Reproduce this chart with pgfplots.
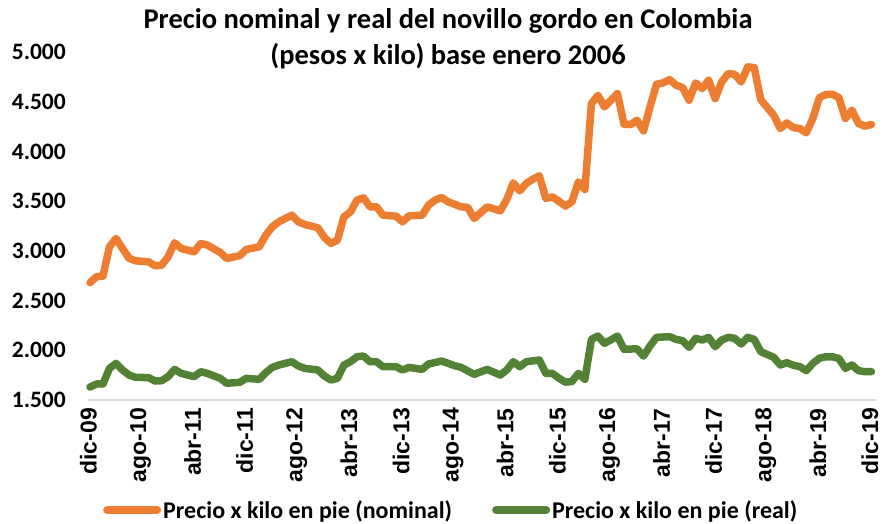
\documentclass[border=0pt]{standalone}
\usepackage{pgfplots}
\pgfplotsset{compat=1.18}
\usepackage{fontspec}
\setmainfont{Carlito}
\newfontfamily\arialfont{Liberation Sans}
\definecolor{cOrange}{HTML}{ED7D31}
\definecolor{cGreen}{HTML}{548235}
\definecolor{cAxis}{HTML}{D9D9D9}
\begin{document}
\begin{tikzpicture}[x=1pt,y=1pt]
\path[use as bounding box] (0,0) rectangle (884,523);
\node[font=\fontsize{28.5}{32}\selectfont\bfseries, align=center] at (448,523-21) {Precio nominal y real del novillo gordo en Colombia};
\node[font=\fontsize{28.5}{32}\selectfont\bfseries, align=center] at (448,523-56) {(pesos x kilo) base enero 2006};
\begin{axis}[
  scale only axis,
  width=788pt, height=348pt,
  anchor=south west, at={(88pt,123pt)},
  xmin=-0.3, xmax=120.7,
  ymin=1500, ymax=5000,
  xtick={0,8,...,120},
  xticklabels={dic-09,ago-10,abr-11,dic-11,ago-12,abr-13,dic-13,ago-14,abr-15,dic-15,ago-16,abr-17,dic-17,ago-18,abr-19,dic-19},
  ytick={1500,2000,...,5000},
  major tick length=0pt,
  separate axis lines,
  axis x line*=bottom,
  axis y line*=left,
  x axis line style={draw=cAxis, line width=1.5pt, -},
  y axis line style={draw=none},
  /pgf/number format/assume math mode=true,
  /pgf/number format/.cd, fixed, precision=0, 1000 sep={.}, /pgfplots/.cd,
  yticklabel style={font=\fontsize{23.5}{26}\selectfont\bfseries, anchor=east, inner sep=0pt, xshift=-22pt},
  xticklabel style={font=\arialfont\fontsize{23}{26}\selectfont\bfseries, rotate=90, anchor=east, inner sep=0pt, xshift=-8pt, yshift=1.5pt},
  legend columns=2,
  legend style={draw=none, fill=none, at={(0.461,-0.316)}, anchor=center,
    font=\fontsize{24}{28}\selectfont\bfseries,
    /tikz/every even column/.append style={column sep=38pt}},
  legend image code/.code={\draw[line width=8pt, line cap=round] (0pt,0pt) -- (50pt,0pt);},
  every axis plot/.append style={line width=7.5pt, line join=round, line cap=round, mark=none},
  clip=false,
]
\addplot[cOrange] coordinates {
(0,2680)(1,2740)(2,2746)(3,3041)(4,3125)(5,3024)(6,2925)(7,2900)(9,2890)(10,2850)
(11,2855)(12,2940)(13,3081)(14,3024)(16,2991)(17,3074)(18,3058)(20,2984)(21,2924)(23,2952)
(24,3014)(26,3041)(27,3158)(28,3242)(29,3292)(31,3359)(32,3292)(33,3265)(35,3232)(36,3135)
(37,3075)(38,3108)(39,3342)(40,3392)(41,3510)(42,3533)(43,3443)(44,3443)(45,3359)(47,3349)
(48,3292)(49,3352)(51,3359)(52,3460)(53,3510)(54,3537)(55,3493)(57,3443)(58,3437)(59,3326)
(61,3443)(63,3402)(64,3516)(65,3684)(66,3604)(67,3678)(68,3721)(69,3755)(70,3527)(71,3543)
(72,3500)(73,3450)(74,3493)(75,3694)(76,3617)(77,4481)(78,4565)(79,4448)(80,4515)(81,4582)
(82,4274)(83,4270)(84,4314)(85,4207)(86,4448)(87,4676)(88,4689)(89,4723)(90,4666)(91,4643)
(92,4515)(93,4689)(94,4632)(95,4716)(96,4531)(97,4699)(98,4783)(99,4776)(100,4699)(101,4850)
(102,4843)(103,4521)(104,4441)(105,4364)(106,4230)(107,4287)(108,4240)(109,4230)(110,4187)(111,4331)
(112,4541)(113,4572)(114,4575)(115,4541)(116,4331)(117,4415)(118,4281)(119,4254)(120,4271)
};
\addlegendentry{Precio x kilo en pie (nominal)}
\addplot[cGreen] coordinates {
(0,1630)(1,1661)(2,1661)(3,1818)(4,1868)(5,1802)(6,1751)(7,1728)(9,1725)(10,1691)
(11,1694)(12,1735)(13,1808)(14,1768)(16,1735)(17,1785)(18,1768)(20,1718)(21,1668)(23,1678)
(24,1718)(26,1708)(27,1775)(28,1828)(29,1852)(31,1885)(32,1842)(33,1818)(35,1802)(36,1741)
(37,1701)(38,1718)(39,1852)(40,1885)(41,1935)(42,1942)(43,1885)(44,1885)(45,1835)(47,1835)
(48,1802)(49,1828)(51,1808)(52,1862)(54,1892)(56,1845)(57,1828)(59,1758)(61,1808)(63,1751)
(64,1802)(65,1885)(66,1835)(67,1885)(69,1902)(70,1768)(71,1768)(72,1720)(73,1680)(74,1685)
(75,1768)(76,1708)(77,2110)(78,2143)(79,2070)(80,2105)(81,2143)(82,2010)(84,2015)(85,1942)
(86,2043)(87,2130)(89,2137)(90,2110)(91,2097)(92,2030)(93,2120)(94,2103)(95,2130)(96,2037)
(97,2103)(98,2130)(99,2120)(100,2063)(101,2130)(102,2110)(103,1986)(105,1929)(106,1852)(107,1875)
(108,1850)(109,1835)(110,1795)(111,1868)(112,1920)(113,1935)(114,1935)(115,1918)(116,1818)(117,1852)
(118,1795)(119,1785)(120,1785)
};
\addlegendentry{Precio x kilo en pie (real)}
\end{axis}
\end{tikzpicture}
\end{document}
